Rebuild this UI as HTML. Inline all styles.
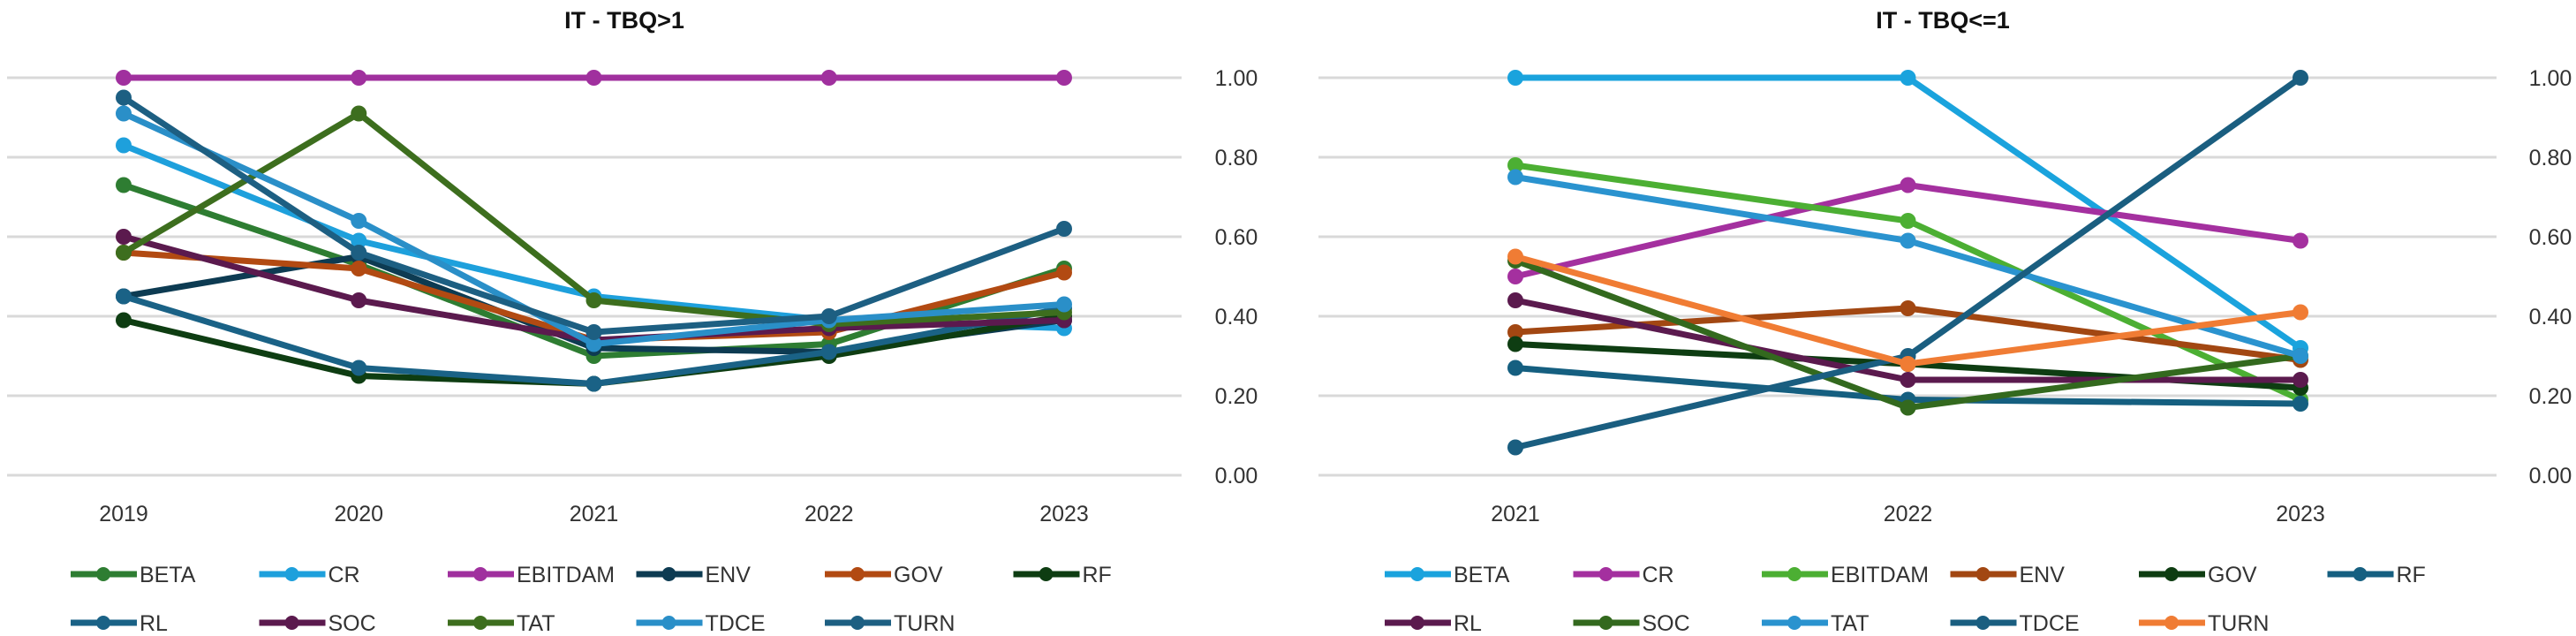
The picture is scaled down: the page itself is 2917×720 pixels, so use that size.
<!DOCTYPE html>
<html><head><meta charset="utf-8"><style>
html,body{margin:0;padding:0;background:#fff;width:2917px;height:720px;overflow:hidden}
svg{display:block;font-family:"Liberation Sans Narrow","Liberation Sans",sans-serif}
</style></head><body>
<svg id="chart" width="2917" height="720" viewBox="0 0 2917 720"></svg>
<script>
const leftCats = ['2019','2020','2021','2022','2023'];
const rightCats = ['2021','2022','2023'];
const tickLabels = ['0.00','0.20','0.40','0.60','0.80','1.00'];
const tickValues = [0,0.2,0.4,0.6,0.8,1.0];
const seriesNames = ['BETA','CR','EBITDAM','ENV','GOV','RF','RL','SOC','TAT','TDCE','TURN'];
const leftBETA=[0.73,0.53,0.30,0.33,0.52];
const leftCR=[0.83,0.59,0.45,0.39,0.37];
const leftEBITDAM=[1,1,1,1,1];
const leftENV=[0.45,0.55,0.32,0.31,0.39];
const leftGOV=[0.56,0.52,0.34,0.36,0.51];
const leftRF=[0.39,0.25,0.23,0.30,0.40];
const leftRL=[0.45,0.27,0.23,0.31,0.42];
const leftSOC=[0.60,0.44,0.34,0.37,0.39];
const leftTAT=[0.56,0.91,0.44,0.38,0.41];
const leftTDCE=[0.91,0.64,0.33,0.39,0.43];
const leftTURN=[0.95,0.56,0.36,0.40,0.62];
const rightBETA=[1,1,0.32];
const rightCR=[0.50,0.73,0.59];
const rightEBITDAM=[0.78,0.64,0.19];
const rightENV=[0.36,0.42,0.29];
const rightGOV=[0.33,0.28,0.22];
const rightRF=[0.27,0.19,0.18];
const rightRL=[0.44,0.24,0.24];
const rightSOC=[0.54,0.17,0.30];
const rightTAT=[0.75,0.59,0.30];
const rightTDCE=[0.07,0.30,1.00];
const rightTURN=[0.55,0.28,0.41];

const NS='http://www.w3.org/2000/svg';
const svg=document.getElementById('chart');
function mk(tag,attrs,parent){const e=document.createElementNS(NS,tag);for(const k in attrs)e.setAttribute(k,attrs[k]);(parent||svg).appendChild(e);return e;}

function drawChart(cfg){
  const g=mk('g',{});
  
  
  const y=v=>cfg.y0-(cfg.y0-cfg.y1)*v;
  const x=i=>cfg.xs+(cfg.xe-cfg.xs)*i/(cfg.cats.length-1);
  const t=mk('text',{x:cfg.titleX,y:32,'text-anchor':'middle','font-size':27,'font-weight':'bold',fill:'#111'},g);
  t.textContent=cfg.title;
  
  
  tickValues.forEach((v,i)=>{
    const l=mk('line',{x1:cfg.gx1,x2:cfg.gx2,y1:y(v),y2:y(v),stroke:'#d9d9d9','stroke-width':3},g);
    
    
    const tx=mk('text',{x:cfg.labX,y:y(v)+9,'text-anchor':'middle','font-size':25,fill:'#333'},g);
    tx.textContent=tickLabels[i];
    
    
  });
  cfg.cats.forEach((c,i)=>{
    const tx=mk('text',{x:x(i),y:590,'text-anchor':'middle','font-size':25,fill:'#333'},g);
    tx.textContent=c;
    
    
  });
  seriesNames.forEach((n,si)=>{
    const vals=cfg.data[si], col=cfg.colors[si];
    const sg=mk('g',{},g);
    
    
    mk('polyline',{points:vals.map((v,i)=>x(i)+','+y(v)).join(' '),fill:'none',stroke:col,'stroke-width':7,'stroke-linejoin':'round'},sg);
    vals.forEach((v,i)=>{
      const c=mk('circle',{cx:x(i),cy:y(v),r:9,fill:col},sg);
      
      
    });
    const lx=cfg.legX+213.5*(si%6), ly=si<6?650:705;
    const lg=mk('g',{},g);
    
    
    mk('line',{x1:lx,x2:lx+75,y1:ly,y2:ly,stroke:col,'stroke-width':7},lg);
    mk('circle',{cx:lx+37,cy:ly,r:8,fill:col},lg);
    const tx=mk('text',{x:lx+78,y:ly+9,'font-size':25,fill:'#333'},lg);
    tx.textContent=n;
  });
}
drawChart({key:'left',title:'IT - TBQ>1',titleX:707,cats:leftCats,xs:140,xe:1205,y1:88,y0:538,gx1:8,gx2:1338,labX:1400,legX:80,
  data:[leftBETA,leftCR,leftEBITDAM,leftENV,leftGOV,leftRF,leftRL,leftSOC,leftTAT,leftTDCE,leftTURN],
  colors:['#2e7d32','#1ea0dc','#a0309e','#0d3b52','#b24a12','#0e3d12','#1a6286','#5b1a4e','#3d6e1e','#2a8fc8','#1d5f82']});
drawChart({key:'right',title:'IT - TBQ<=1',titleX:2200,cats:rightCats,xs:1716,xe:2605,y1:88,y0:538,gx1:1493,gx2:2827,labX:2888,legX:1568,
  data:[rightBETA,rightCR,rightEBITDAM,rightENV,rightGOV,rightRF,rightRL,rightSOC,rightTAT,rightTDCE,rightTURN],
  colors:['#1aa3dd','#a4309f','#4caf33','#a24712','#0e3d12','#155f80','#5b1a4e','#33691e','#2a93cf','#1a5e80','#f07c34']});
</script>
</body></html>
